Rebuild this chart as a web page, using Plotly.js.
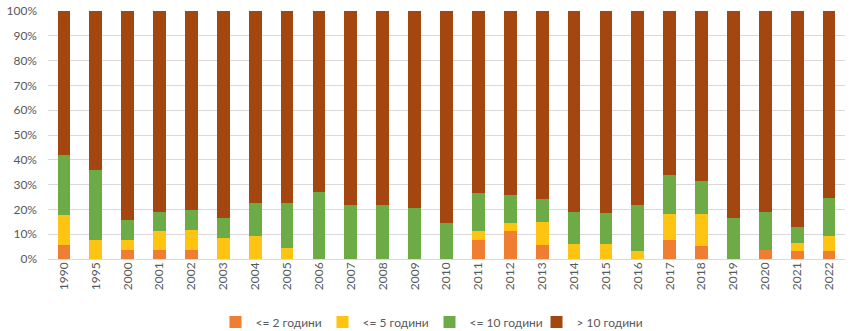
<!DOCTYPE html>
<html>
<head>
<meta charset="utf-8">
<script src="https://cdn.plot.ly/plotly-3.0.1.min.js"></script>
<style>html,body{margin:0;padding:0;background:#fff;}#chart{width:859px;height:331px;}</style>
</head>
<body>
<div id="chart"></div>
<script>
const years = ["1990","1995","2000","2001","2002","2003","2004","2005","2006","2007","2008","2009","2010","2011","2012","2013","2014","2015","2016","2017","2018","2019","2020","2021","2022"];
const seriesNames = ["<= 2 години", "<= 5 години", "<= 10 години", "> 10 години"];
const upTo2 =   [5.7, 0,   3.7, 3.7, 3.7, 0,   0,    0,    0,    0,    0,    0,    0,    7.7,  11.1, 5.7, 0,    0,    0,    7.7,  5.1,  0,    3.7,  3.1,  3.3];
const upTo5 =   [12.0,7.7, 4.0, 7.6, 8.0, 8.4, 9.1,  4.4,  0,    0,    0,    0,    0,    3.6,  3.6,  9.4, 6.1,  6.1,  3.1,  10.4, 13.0, 0,    0,    3.3,  6.0];
const upTo10 =  [24.4,28.0,8.0, 7.8, 8.0, 8.3, 13.6, 18.3, 27.1, 21.6, 21.7, 20.7, 14.7, 15.4, 11.0, 8.9, 13.0, 12.3, 18.5, 15.6, 13.2, 16.7, 15.4, 6.7,  15.1];
const over10 =  [57.9,64.3,84.3,80.9,80.3,83.3,77.3, 77.3, 72.9, 78.4, 78.3, 79.3, 85.3, 73.3, 74.3, 76.0,80.9, 81.6, 78.4, 66.3, 68.7, 83.3, 80.9, 86.9, 75.6];
const colors = ["#EF7D32", "#FFC311", "#6DAB47", "#A3460F"];

const dataSets = [upTo2, upTo5, upTo10, over10];
const traces = dataSets.map((vals, i) => ({
  type: "bar",
  name: seriesNames[i],
  x: years,
  y: vals,
  marker: {color: colors[i], line: {width: 0}},
  hoverinfo: "x+y+name"
}));

const font = {family: "Lato, 'Open Sans', sans-serif", size: 12, color: "#595959"};
const layout = {
  width: 859, height: 331,
  margin: {l: 48, r: 14, t: 11, b: 72, autoexpand: false},
  barmode: "stack",
  barnorm: "percent",
  bargap: 0.6,
  paper_bgcolor: "#fff",
  plot_bgcolor: "#fff",
  font: font,
  showlegend: true,
  legend: {
    orientation: "h",
    xref: "container", yref: "container",
    x: 0.5, xanchor: "center",
    y: 0.027, yanchor: "middle",
    font: {family: font.family, size: 12, color: "#595959"},
    itemwidth: 30,
    entrywidth: 62,
    traceorder: "normal"
  },
  xaxis: {
    type: "category",
    tickangle: -90,
    showgrid: false,
    showline: false,
    ticks: "",
    automargin: false,
    tickfont: {family: font.family, size: 12, color: "#595959"},
    fixedrange: true
  },
  yaxis: {
    range: [0, 100],
    dtick: 10,
    ticksuffix: "%",
    showgrid: true,
    gridcolor: "#D9D9D9",
    gridwidth: 1,
    zeroline: true,
    zerolinecolor: "#D9D9D9",
    showline: false,
    ticks: "",
    automargin: false,
    ticklabelstandoff: 10,
    tickfont: {family: font.family, size: 12, color: "#595959"},
    fixedrange: true
  }
};
Plotly.newPlot("chart", traces, layout, {displayModeBar: false, staticPlot: true});
</script>
</body>
</html>
